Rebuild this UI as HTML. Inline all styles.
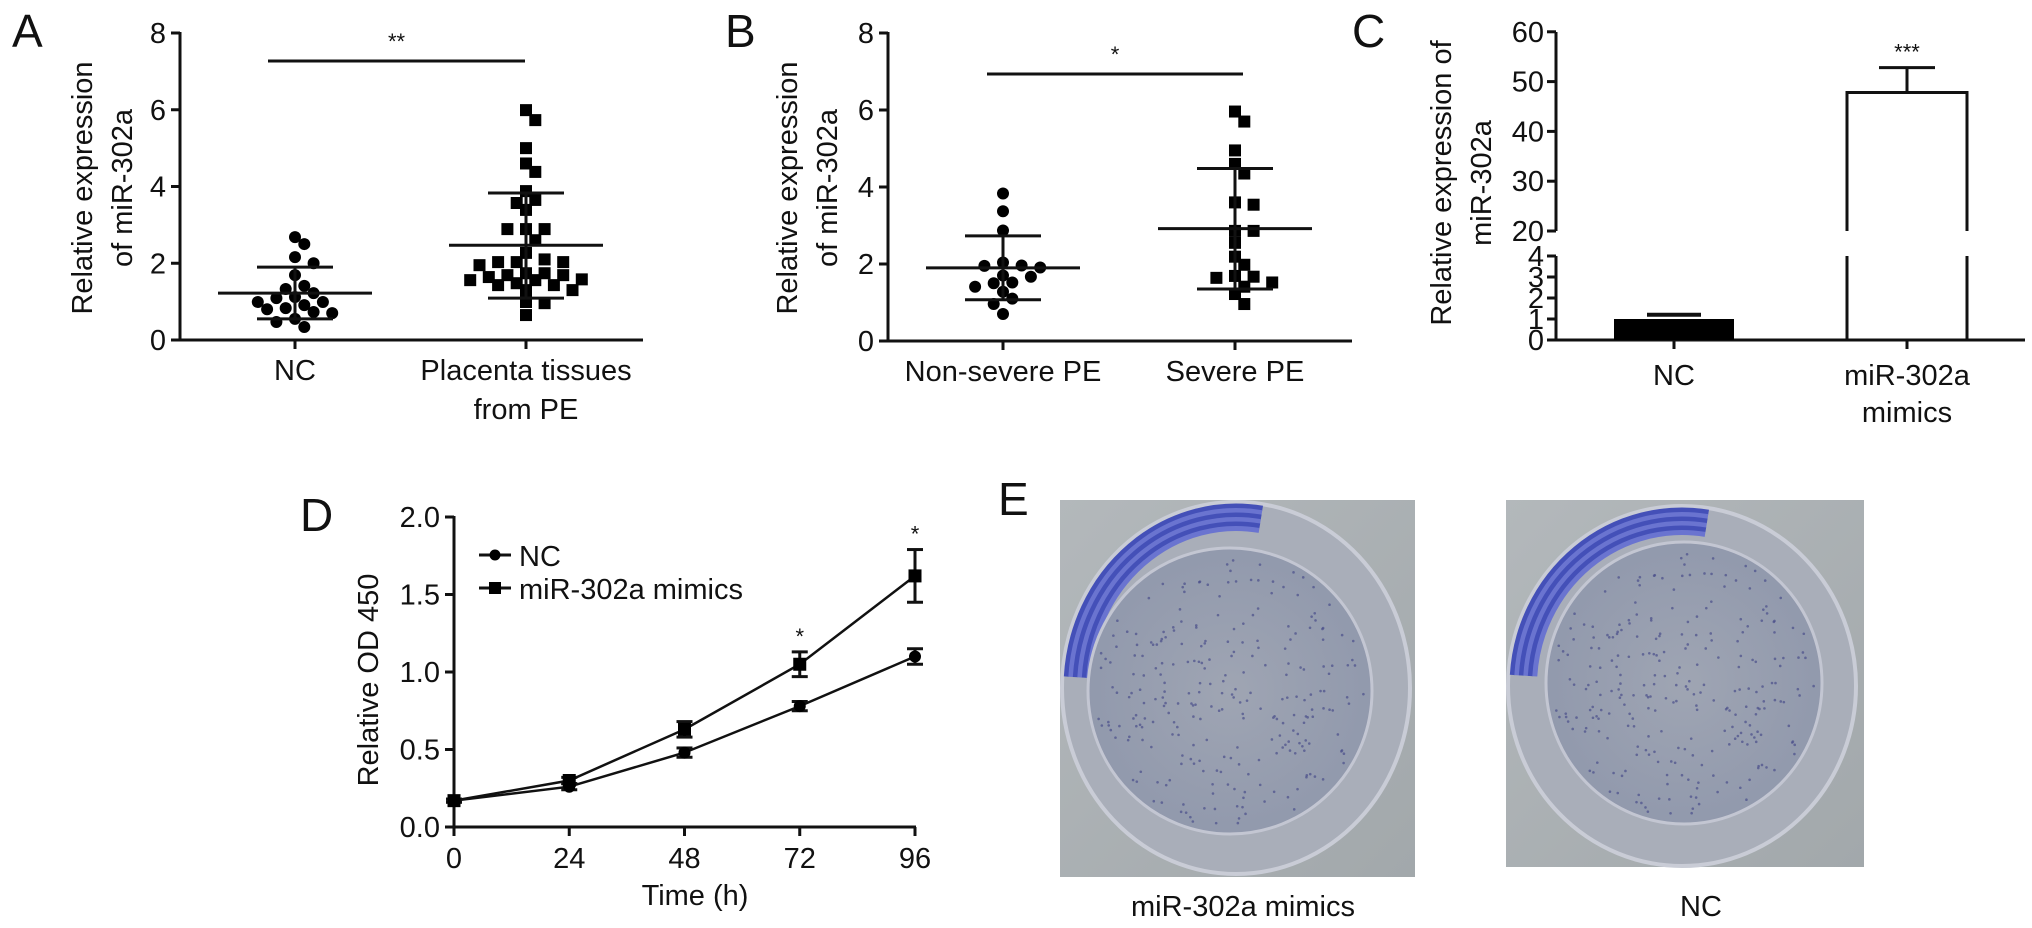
<!DOCTYPE html>
<html><head><meta charset="utf-8"><style>
html,body{margin:0;padding:0;background:#fff;}
svg{display:block;font-family:"Liberation Sans",Arial,sans-serif;}
</style></head><body>
<svg id="fig" width="2032" height="928" viewBox="0 0 2032 928" xmlns="http://www.w3.org/2000/svg">
<defs>
<radialGradient id="dishG" cx="50%" cy="50%" r="55%"><stop offset="0" stop-color="#9fa5b3"/><stop offset="1" stop-color="#9098ac"/></radialGradient>
<linearGradient id="bgG" x1="0" y1="0" x2="1" y2="1"><stop offset="0" stop-color="#b3b8bb"/><stop offset="1" stop-color="#a2a8ab"/></linearGradient>
</defs>
</svg>
<script>
// ---------- Panel A data ----------
const aCategories = ["NC", "Placenta tissues|from PE"];
const aNC = [2.68,2.5,2.16,2.0,1.69,1.41,1.33,1.22,1.09,1.12,0.99,0.99,0.83,0.8,0.91,0.73,0.7,0.55,0.47,0.34];
const aPE = [5.99,5.73,5.0,4.6,4.38,3.88,3.65,3.57,3.39,2.89,2.89,2.89,2.6,2.27,2.1,2.03,1.95,2.03,2.03,1.69,1.58,1.56,1.43,1.74,1.74,1.48,1.43,1.56,1.64,1.69,1.3,1.3,0.99,0.96,0.65];
const aStats = [[1.22,1.9,0.55],[2.47,3.83,1.09]]; // mean, upper, lower
const aTicks = [0,2,4,6,8];
// ---------- Panel B data ----------
const bCategories = ["Non-severe PE", "Severe PE"];
const bNon = [3.83,3.37,2.87,2.04,1.91,1.96,1.67,1.52,1.41,1.28,0.96,0.70,1.95,1.7,1.5,1.1];
const bSev = [5.96,5.7,4.95,4.6,4.35,3.54,3.6,2.86,2.86,2.55,2.19,1.98,1.69,1.64,1.41,1.52,1.67,1.22,0.96];
const bStats = [[1.9,2.73,1.07],[2.92,4.48,1.35]];
const bTicks = [0,2,4,6,8];
// ---------- Panel C data ----------
const cCategories = ["NC", "miR-302a|mimics"];
const cValues = [1.0, 47.8];
const cErrors = [0.2, 5.0];
const cTicksLow = [0,1,2,3,4];
const cTicksHigh = [20,30,40,50,60];
// ---------- Panel D data ----------
const dTimes = [0,24,48,72,96];
const dNC = [0.17,0.26,0.48,0.78,1.10];
const dNCerr = [0.01,0.02,0.03,0.03,0.05];
const dMim = [0.17,0.30,0.63,1.05,1.62];
const dMimErr = [0.01,0.02,0.05,0.08,0.17];
const dTicks = [0.0,0.5,1.0,1.5,2.0];

const NS = "http://www.w3.org/2000/svg";
const svg = document.getElementById('fig');
function mk(tag, attrs, name, parent) {
  const el = document.createElementNS(NS, tag);
  for (const k in attrs) el.setAttribute(k, attrs[k]);
  
  
  (parent || svg).appendChild(el);
  return el;
}
function ln(x1,y1,x2,y2,name,w){return mk('line',{x1:x1,y1:y1,x2:x2,y2:y2,stroke:'#111','stroke-width':w||3},name);}
function tx(x,y,s,name,size,anchor,extra){const t=mk('text',Object.assign({x:x,y:y,'font-size':size||29,'text-anchor':anchor||'middle',fill:'#111'},extra||{}),name);t.textContent=s;return t;}
function vtitle(cx,cy,s,name,size){const t=mk('text',{x:0,y:0,'font-size':size||29,'text-anchor':'middle',fill:'#111',transform:'translate('+cx+','+cy+') rotate(-90)'},name);t.textContent=s;return t;}

function beeswarm(vals, cx, ys, r, kind, name){
  const placed=[];
  const order=vals.map((v,i)=>i).sort((a,b)=>vals[b]-vals[a]);
  for(const i of order){
    const y=ys(vals[i]);
    let x=cx;
    for(let k=0;k<40;k++){
      const off=(k%2?1:-1)*Math.ceil(k/2)*r*1.55;
      const xx=cx+off;
      if(placed.every(p=>Math.hypot(p[0]-xx,p[1]-y)>=r*1.9)){x=xx;break;}
    }
    placed.push([x,y]);
    if(kind==='c') mk('circle',{cx:x,cy:y,r:r,fill:'#000'},name);
    else mk('rect',{x:x-r,y:y-r,width:2*r,height:2*r,fill:'#000'},name);
  }
}

// ---------- scatter panel generic ----------
function scatterPanel(o){
  const ys=v=>o.y0-(o.y0-o.y8)*v/8;
  ln(o.ax,o.y8-1,o.ax,o.y0+1,o.p+'-y-axis');
  o.ticks.forEach(t=>{ln(o.ax-9,ys(t),o.ax,ys(t),o.p+'-y-tick');tx(o.ax-14,ys(t)+10,String(t),o.p+'-y-tick-label',29,'end');});
  ln(o.ax,o.y0,o.axEnd,o.y0,o.p+'-x-axis');
  o.cx.forEach((c,i)=>{ln(c,o.y0,c,o.y0+9,o.p+'-x-tick');
    o.cats[i].split('|').forEach((s,j)=>tx(c,o.y0+40+j*39,s,o.p+'-x-label-'+i,29));});
  const groups=[o.g1,o.g2];
  groups.forEach((g,i)=>beeswarm(g,o.cx[i],ys,6,i===0?'c':'s',o.p+'-point-'+i));
  o.stats.forEach((s,i)=>{
    const c=o.cx[i];
    ln(c-77,ys(s[0]),c+77,ys(s[0]),o.p+'-mean-line-'+i);
    ln(c-38,ys(s[1]),c+38,ys(s[1]),o.p+'-sd-cap-upper-'+i);
    ln(c-38,ys(s[2]),c+38,ys(s[2]),o.p+'-sd-cap-lower-'+i);
    ln(c,ys(s[1]),c,ys(s[2]),o.p+'-sd-bar-'+i);
  });
  ln(o.sig[0],o.sig[1],o.sig[2],o.sig[1],o.p+'-significance-line');
  tx((o.sig[0]+o.sig[2])/2+o.sig[4],o.sig[1]-12,o.sig[3],o.p+'-significance-stars',22);
  vtitle(o.t1x,o.ty,'Relative expression',o.p+'-y-title');
  vtitle(o.t2x,o.ty,'of miR-302a',o.p+'-y-title');
  tx(o.lx,o.ly,o.letter,o.p+'-panel-letter',46,'start');
}
scatterPanel({p:'a',ax:180,y8:33,y0:340,axEnd:643,cx:[295,526],cats:aCategories,g1:aNC,g2:aPE,stats:aStats,ticks:aTicks,
  sig:[268,61,525,'**',0],t1x:92,t2x:132,ty:188,letter:'A',lx:12,ly:47});
scatterPanel({p:'b',ax:888,y8:33,y0:341,axEnd:1352,cx:[1003,1235],cats:bCategories,g1:bNon,g2:bSev,stats:bStats,ticks:bTicks,
  sig:[987,74,1243,'*',0],t1x:797,t2x:837,ty:188,letter:'B',lx:725,ly:47});

// ---------- Panel C ----------
(function(){
  const ax=1556, y0=340;
  const yLow=v=>y0-v*21;          // 0..4 → 340..256
  const yHigh=v=>231-(v-20)*4.98; // 20..60 → 231..32
  const yv=v=>v<=4?yLow(v):yHigh(v);
  ln(ax,256,ax,y0+1,'c-y-axis-lower');
  ln(ax,32,ax,231,'c-y-axis-upper');
  ln(ax-9,256,ax,256,'c-break-tick');ln(ax-9,231,ax,231,'c-break-tick');
  cTicksLow.forEach(t=>{ln(ax-9,yLow(t),ax,yLow(t),'c-y-tick');tx(ax-12,yLow(t)+10,String(t),'c-y-tick-label',29,'end');});
  cTicksHigh.forEach(t=>{ln(ax-9,yHigh(t),ax,yHigh(t),'c-y-tick');tx(ax-12,yHigh(t)+10,String(t),'c-y-tick-label',29,'end');});
  ln(ax,y0,2025,y0,'c-x-axis');
  const cx=[1674,1907], bw=120;
  cx.forEach((c,i)=>{ln(c,y0,c,y0+9,'c-x-tick');cCategories[i].split('|').forEach((s,j)=>tx(c,y0+45+j*37,s,'c-x-label-'+i,29));});
  // NC bar filled
  mk('rect',{x:cx[0]-bw/2,y:yv(cValues[0]),width:bw,height:y0-yv(cValues[0]),fill:'#000'},'c-bar-nc');
  ln(cx[0]-27,yv(cValues[0]+cErrors[0]),cx[0]+27,yv(cValues[0]+cErrors[0]),'c-error-cap-nc',4);
  // mimics bar outline with break
  const top=yv(cValues[1]), l=cx[1]-bw/2, r=cx[1]+bw/2;
  ln(l,top,r,top,'c-bar-mimics-top');
  ln(l,top-1.5,l,231,'c-bar-mimics-side');ln(r,top-1.5,r,231,'c-bar-mimics-side');
  ln(l,256,l,y0,'c-bar-mimics-side');ln(r,256,r,y0,'c-bar-mimics-side');
  const et=yv(cValues[1]+cErrors[1]);
  ln(cx[1],et,cx[1],top,'c-error-bar-mimics');
  ln(cx[1]-28,et,cx[1]+28,et,'c-error-cap-mimics');
  tx(cx[1],et-8,'***','c-significance-stars',22);
  vtitle(1451,183,'Relative expression of','c-y-title');
  vtitle(1491,183,'miR-302a','c-y-title');
  tx(1352,47,'C','c-panel-letter',46,'start');
})();

// ---------- Panel D ----------
(function(){
  const ax=454, y0=827;
  const xs=t=>ax+t*(915-454)/96;
  const ys=v=>y0-v*155;
  ln(ax,ys(2)-1,ax,y0+1,'d-y-axis');
  dTicks.forEach(t=>{ln(ax-9,ys(t),ax,ys(t),'d-y-tick');tx(ax-14,ys(t)+10,t.toFixed(1),'d-y-tick-label',29,'end');});
  ln(ax,y0,xs(96)+1,y0,'d-x-axis');
  dTimes.forEach(t=>{ln(xs(t),y0,xs(t),y0+9,'d-x-tick');tx(xs(t),y0+41,String(t),'d-x-tick-label',29);});
  tx(695,905,'Time (h)','d-x-title',29);
  vtitle(378,680,'Relative OD 450','d-y-title');
  tx(300,531,'D','d-panel-letter',46,'start');
  function series(vals,errs,kind,name){
    mk('polyline',{points:vals.map((v,i)=>xs(dTimes[i])+','+ys(v)).join(' '),fill:'none',stroke:'#111','stroke-width':2.5},name+'-line');
    vals.forEach((v,i)=>{
      const x=xs(dTimes[i]);
      ln(x,ys(v+errs[i]),x,ys(v-errs[i]),name+'-error-bar',3);
      ln(x-8,ys(v+errs[i]),x+8,ys(v+errs[i]),name+'-error-cap',3);
      ln(x-8,ys(v-errs[i]),x+8,ys(v-errs[i]),name+'-error-cap',3);
      if(kind==='c') mk('circle',{cx:x,cy:ys(v),r:6,fill:'#000'},name+'-point');
      else mk('rect',{x:x-6.5,y:ys(v)-6.5,width:13,height:13,fill:'#000'},name+'-point');
    });
  }
  series(dNC,dNCerr,'c','d-nc');
  series(dMim,dMimErr,'s','d-mimics');
  tx(xs(72),ys(dMim[3]+dMimErr[3])-8,'*','d-significance-72',22);
  tx(xs(96),ys(dMim[4]+dMimErr[4])-8,'*','d-significance-96',22);
  ln(479,555,511,555,'d-legend-line-nc',3);mk('circle',{cx:495,cy:555,r:5.5,fill:'#000'},'d-legend-marker-nc');
  tx(519,566,'NC','d-legend-label-nc',29,'start');
  ln(479,588,511,588,'d-legend-line-mimics',3);mk('rect',{x:489,y:582,width:12,height:12,fill:'#000'},'d-legend-marker-mimics');
  tx(519,599,'miR-302a mimics','d-legend-label-mimics',29,'start');
})();

// ---------- Panel E (photographs) ----------
tx(998,515,'E','e-panel-letter',46,'start');
function dish(x,y,w,h,ox,oy,orx,ory,ix,iy,irx,iry,name){
  const g=mk('g',{},name);
  mk('rect',{x:x,y:y,width:w,height:h,fill:'url(#bgG)'},name+'-background',g);
  mk('ellipse',{cx:ox,cy:oy,rx:orx,ry:ory,fill:'#a9aeb9',stroke:'#c9ccd6','stroke-width':4},name+'-dish-rim',g);
  const a0=Math.PI*1.02,a1=Math.PI*1.55;
  for(let k=0;k<6;k++){
    const rx=orx-4-k*4.5, ry=ory-4-k*4.5;
    const p='M'+(ox+rx*Math.cos(a0))+','+(oy-ry*Math.sin(a0)*-1)+' A'+rx+','+ry+' 0 0 1 '+(ox+rx*Math.cos(a1))+','+(oy+ry*Math.sin(a1));
    mk('path',{d:p,fill:'none',stroke:k%2?'#6a74d0':'#4450b8','stroke-width':5},name+'-blue-ring',g);
  }
  mk('ellipse',{cx:ix,cy:iy,rx:irx,ry:iry,fill:'url(#dishG)',stroke:'#c3c6d2','stroke-width':3},name+'-dish-well',g);
  let s=7;
  for(let i=0;i<260;i++){
    s=(s*9301+49297)%233280;const u=s/233280;
    s=(s*9301+49297)%233280;const v=s/233280;
    const ang=u*2*Math.PI, rr=Math.sqrt(v)*0.95;
    mk('circle',{cx:ix+Math.cos(ang)*irx*rr,cy:iy+Math.sin(ang)*iry*rr,r:1.3,fill:'#4a4f8a',opacity:0.7},name+'-colony',g);
  }
}
dish(1060,500,355,377,1236,688,174,186,1230,691,142,143,'e-photo-mimics');
dish(1506,500,358,367,1682,686,174,180,1684,683,138,141,'e-photo-nc');
tx(1243,916,'miR-302a mimics','e-label-mimics',29);
tx(1701,916,'NC','e-label-nc',29);
</script>
</body></html>
